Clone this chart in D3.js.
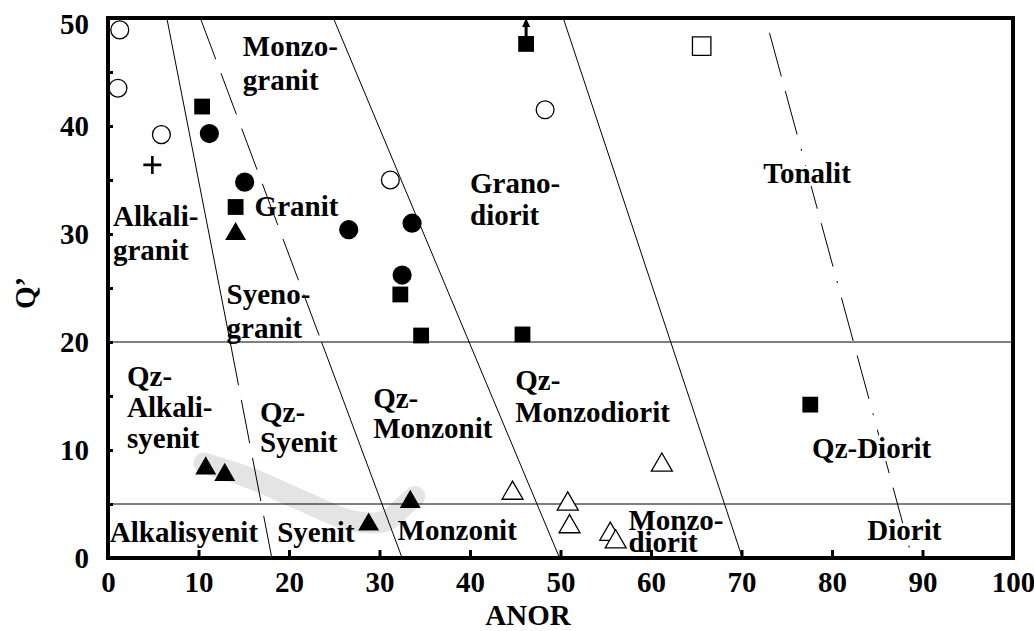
<!DOCTYPE html>
<html>
<head>
<meta charset="utf-8">
<script src="https://d3js.org/d3.v7.min.js"></script>
<style>
  body { margin: 0; background: #fff; }
  svg text { font-family: "Liberation Serif", "Times New Roman", Times, serif; font-weight: bold; font-size: 29px; fill: #000; }
</style>
</head>
<body>
<svg id="chart" width="1034" height="631"></svg>
<script>
// Sample points (ANOR, Q')
var openCircles = [[1.3, 48.9], [1.1, 43.5], [5.9, 39.2], [31.2, 35.0], [48.3, 41.5]];
var filledCircles = [[11.2, 39.3], [15.1, 34.8], [26.6, 30.4], [33.6, 31.0], [32.5, 26.2]];
var filledSquares = [[10.4, 41.8], [14.1, 32.5], [46.2, 47.6], [32.3, 24.4], [34.6, 20.6], [45.8, 20.7], [77.6, 14.2]];
var openSquares = [[65.6, 47.4]];
var filledTriangles = [[14.1, 30.0], [10.8, 8.3], [12.9, 7.7], [28.8, 3.1], [33.4, 5.2]];
var openTriangles = [[44.7, 6.0], [50.8, 5.0], [51.0, 2.9], [55.5, 2.2], [56.1, 1.5], [61.2, 8.6]];
var crosses = [[4.9, 36.4]];
// sample that continues above the plot
var arrowPoint = [46.2, 47.6];

// grey trend band
var trendBand = [[10.6, 8.8], [15.7, 7.4], [21.2, 5.4], [26.7, 3.5], [30.6, 3.4], [32.8, 4.9], [33.9, 5.7]];

// field boundaries: [ANOR, Q'] at Q'=50, 20, 0
var boundary1 = [[6.5, 50], [13.5, 20], [18.1, 0]];
var boundary2 = [[10.2, 50], [23.6, 20], [32.5, 0]];
var boundary3 = [[24.9, 50], [49.9, 0]];
var boundary4 = [[50.3, 50], [70.1, 0]];
var boundary5 = [[73.1, 48.6], [88.7, 0.5]];
var horizontals = [20, 5];

// field names, one entry per text line: [text, ANOR, Q']
var fieldLabels = [
  ["Monzo-", 14.9, 46.5], ["granit", 14.9, 43.3],
  ["Alkali-", 0.55, 30.7], ["granit", 0.55, 27.6],
  ["Granit", 16.2, 31.7],
  ["Syeno-", 13.1, 23.5], ["granit", 13.1, 20.4],
  ["Grano-", 40.0, 33.8], ["diorit", 40.0, 30.8],
  ["Qz-", 2.1, 15.9], ["Alkali-", 2.1, 13.1], ["syenit", 2.1, 10.2],
  ["Qz-", 16.8, 12.6], ["Syenit", 16.8, 9.8],
  ["Qz-", 29.3, 13.9], ["Monzonit", 29.3, 11.1],
  ["Qz-", 45.0, 15.6], ["Monzodiorit", 45.0, 12.6],
  ["Alkalisyenit", 0.2, 1.5], ["Syenit", 18.7, 1.5], ["Monzonit", 32.0, 1.7],
  ["Monzo-", 57.5, 2.6], ["diorit", 57.5, 0.55]
];
// labels sitting on the dash-dot line (they mask it)
var maskedLabels = [["Tonalit", 72.4, 34.7], ["Qz-Diorit", 77.8, 9.3], ["Diorit", 83.9, 1.7]];

var xTicks = [0, 10, 20, 30, 40, 50, 60, 70, 80, 90, 100];
var yTicks = [0, 5, 10, 15, 20, 25, 30, 35, 40, 45, 50];

var svg = d3.select('#chart');
var x = d3.scaleLinear().domain([0, 100]).range([108, 1013]);
var y = d3.scaleLinear().domain([0, 50]).range([558, 18]);

var line = d3.line()
    .x(function(d) { return x(d[0]); })
    .y(function(d) { return y(d[1]); });

// Grey band
svg.append('path')
    .datum(trendBand)
    .attr('d', d3.line().x(function(d) { return x(d[0]); }).y(function(d) { return y(d[1]); }).curve(d3.curveCatmullRom))
    .attr('fill', 'none')
    .attr('stroke', '#e4e4e4')
    .attr('stroke-width', 21)
    .attr('stroke-linecap', 'round')
    .attr('stroke-linejoin', 'round');

// Horizontal field lines
svg.selectAll('.hline')
    .data(horizontals)
    .enter().append('line')
    .attr('x1', x(0)).attr('x2', x(100))
    .attr('y1', function(d) { return y(d); })
    .attr('y2', function(d) { return y(d); })
    .attr('stroke', '#000')
    .attr('stroke-width', 1);

function boundary(pts, dash) {
    svg.append('path')
        .datum(pts)
        .attr('d', line)
        .attr('fill', 'none')
        .attr('stroke', '#000')
        .attr('stroke-width', 1)
        .attr('stroke-dasharray', dash);
}
// Boundary lines
boundary(boundary1.slice(0, 2), null);
boundary(boundary1.slice(1), '44,15');
boundary(boundary2.slice(0, 2), '44,15');
boundary(boundary2.slice(1), null);
boundary(boundary3, null);
boundary(boundary4, null);
boundary(boundary5, '45,15,45,15,2,15');

// Field labels
svg.selectAll('.field')
    .data(fieldLabels)
    .enter().append('text')
    .attr('class', 'field')
    .attr('x', function(d) { return x(d[1]); })
    .attr('y', function(d) { return y(d[2]); })
    .text(function(d) { return d[0]; });

svg.selectAll('.masked')
    .data(maskedLabels)
    .enter().append('text')
    .attr('class', 'masked')
    .attr('x', function(d) { return x(d[1]); })
    .attr('y', function(d) { return y(d[2]); })
    .style('stroke', '#fff')
    .style('stroke-width', 6)
    .style('paint-order', 'stroke')
    .text(function(d) { return d[0]; });

// Markers
function markers(data, type, size, filled) {
    svg.append('g')
        .selectAll('path')
        .data(data)
        .enter().append('path')
        .attr('transform', function(d) { return 'translate(' + x(d[0]) + ',' + y(d[1]) + ')'; })
        .attr('d', d3.symbol().type(type).size(size))
        .attr('fill', filled ? '#000' : '#fff')
        .attr('stroke', '#000')
        .attr('stroke-width', filled ? 0 : 1.3);
}
markers(openCircles, d3.symbolCircle, 250, false);
markers(filledCircles, d3.symbolCircle, 290, true);
markers(filledSquares, d3.symbolSquare, 250, true);
markers(openSquares, d3.symbolSquare, 340, false);
markers(filledTriangles, d3.symbolTriangle, 190, true);
markers(openTriangles, d3.symbolTriangle, 190, false);

svg.append('g')
    .selectAll('path')
    .data(crosses)
    .enter().append('path')
    .attr('transform', function(d) { return 'translate(' + x(d[0]) + ',' + y(d[1]) + ')'; })
    .attr('d', 'M-9,0H9M0,-9V9')
    .attr('stroke', '#000')
    .attr('stroke-width', 2.6);

// Arrow: value lies above the plot
var ax = x(arrowPoint[0]);
svg.append('line')
    .attr('x1', ax).attr('x2', ax)
    .attr('y1', y(arrowPoint[1]) - 6).attr('y2', y(50) + 6)
    .attr('stroke', '#000').attr('stroke-width', 3);
svg.append('path')
    .attr('d', 'M' + (ax - 4) + ',' + (y(50) + 9) + 'L' + ax + ',' + y(50) + 'L' + (ax + 4) + ',' + (y(50) + 9) + 'Z')
    .attr('fill', '#000');

// Axes
var xAxis = d3.axisBottom(x).tickValues(xTicks).tickSize(-8).tickPadding(13);
var gx = svg.append('g').attr('transform', 'translate(0,' + y(0) + ')').call(xAxis);
var yAxis = d3.axisLeft(y).tickValues(yTicks).tickSize(-5).tickPadding(19)
    .tickFormat(function(d) { return d % 10 === 0 ? d : ''; });
var gy = svg.append('g').attr('transform', 'translate(' + x(0) + ',0)').call(yAxis);
[gx, gy].forEach(function(g) {
    g.attr('font-family', null).attr('font-size', null);
    g.select('.domain').remove();
    g.selectAll('.tick line').attr('stroke', '#000').attr('stroke-width', 3);
});
// top label sits a little lower, inside the frame height
gy.selectAll('.tick text').filter(function(d) { return d === 50; }).attr('dy', '0.55em');

// Frame
svg.append('rect')
    .attr('x', x(0)).attr('y', y(50))
    .attr('width', x(100) - x(0)).attr('height', y(0) - y(50))
    .attr('fill', 'none')
    .attr('stroke', '#000')
    .attr('stroke-width', 4);

// Axis titles
svg.append('text')
    .attr('x', 528).attr('y', 625)
    .attr('text-anchor', 'middle')
    .text('ANOR');
svg.append('text')
    .attr('transform', 'translate(35,293) rotate(-90)')
    .attr('text-anchor', 'middle')
    .text('Q’');
</script>
</body>
</html>
